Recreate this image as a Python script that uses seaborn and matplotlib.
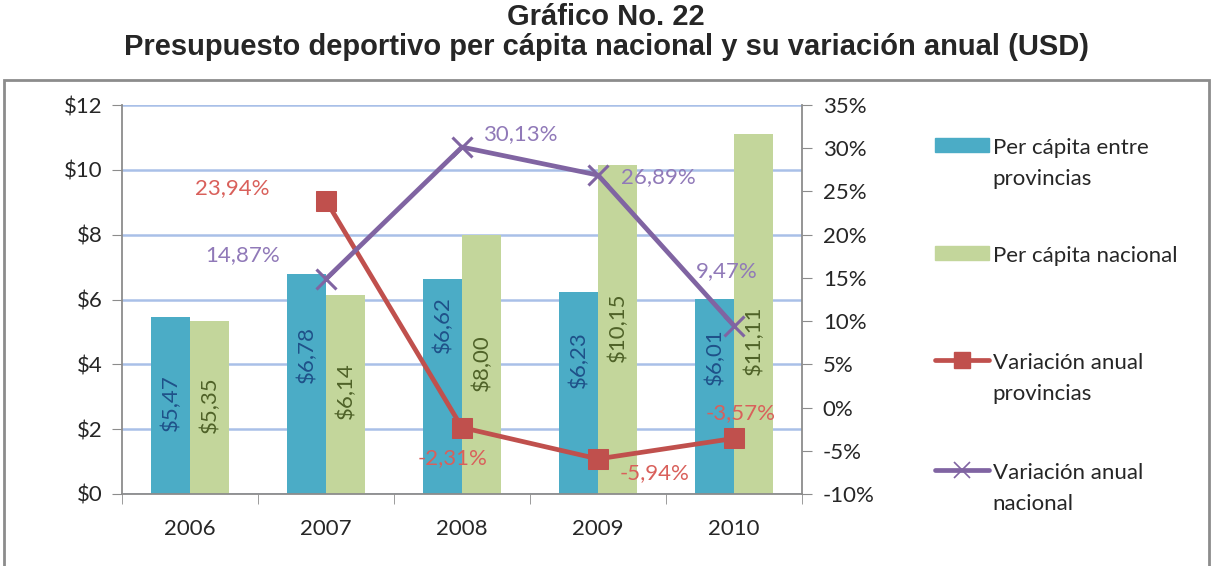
import numpy as np
import pandas as pd
import seaborn as sns
import matplotlib.pyplot as plt
from matplotlib.patches import Patch, Rectangle
from matplotlib.lines import Line2D
from matplotlib.ticker import FuncFormatter, MultipleLocator

# datos
years = ['2006', '2007', '2008', '2009', '2010']
pc_provincias = [5.47, 6.78, 6.62, 6.23, 6.01]
pc_nacional = [5.35, 6.14, 8.00, 10.15, 11.11]
var_provincias = [np.nan, 23.94, -2.31, -5.94, -3.57]
var_nacional = [np.nan, 14.87, 30.13, 26.89, 9.47]

serie_bar = ['Per cápita entre\nprovincias', 'Per cápita nacional']
serie_line = ['Variación anual\nprovincias', 'Variación anual\nnacional']

# altura (en $) donde Excel dejo las etiquetas de las barras
lbl_y_prov = [2.81, 4.29, 5.24, 4.13, 4.23]
lbl_y_nac = [2.75, 3.18, 4.04, 5.15, 4.75]

# desplazamiento del centro de las etiquetas de las lineas (px)
off_prov = [None, (-94, 13), (-9, -31), (57, -14), (7, 25)]
off_nac = [None, (-83, 24), (58, 13), (60, -2), (-7, 55)]

c_blue, c_green = '#4BACC6', '#C3D69B'
c_red, c_purple = '#C0504D', '#8064A2'
fs = 16

sns.set_style('white')
plt.rcParams['font.family'] = ['Lato', 'DejaVu Sans']

fig = plt.figure(figsize=(12.12, 5.66), dpi=100)
ax = fig.add_axes([122 / 1212, 1 - 494 / 566, 680 / 1212, 389 / 566])

df = pd.DataFrame({
    'year': years * 2,
    'valor': pc_provincias + pc_nacional,
    'serie': [serie_bar[0]] * 5 + [serie_bar[1]] * 5,
})
sns.barplot(data=df, x='year', y='valor', hue='serie', palette=[c_blue, c_green],
            width=0.57, gap=0, saturation=1, linewidth=0, ax=ax, legend=False, zorder=2)

ax.set_ylim(0, 12)
ax.set_xlim(-0.5, 4.5)
ax.yaxis.set_major_locator(MultipleLocator(2))
ax.yaxis.set_major_formatter(FuncFormatter(lambda v, p: f'${v:.0f}'))
ax.set_xlabel('')
ax.set_ylabel('')
ax.grid(axis='y', color='#A9C0E8', lw=1.8, zorder=0)
ax.set_axisbelow(True)
for s in ['top', 'right']:
    ax.spines[s].set_visible(False)
for s in ['left', 'bottom']:
    ax.spines[s].set_color('#8C8C8C')
    ax.spines[s].set_linewidth(1.3)
ax.tick_params(axis='y', which='both', direction='out', length=7, color='#8C8C8C',
               labelsize=fs, pad=7, left=True)
ax.tick_params(axis='x', which='major', length=0, labelsize=fs, pad=18)
ax.set_xticks(np.arange(-0.5, 5, 1), minor=True)
ax.tick_params(axis='x', which='minor', direction='out', length=7, color='#8C8C8C', bottom=True)

# etiquetas de las barras (verticales)
for i in range(5):
    ax.text(i - 0.1425, lbl_y_prov[i], f'${pc_provincias[i]:.2f}'.replace('.', ','),
            rotation=90, ha='center', va='center', color='#1F5189', fontsize=fs)
    ax.text(i + 0.1425, lbl_y_nac[i], f'${pc_nacional[i]:.2f}'.replace('.', ','),
            rotation=90, ha='center', va='center', color='#4F6228', fontsize=fs)

# eje secundario con las variaciones
ax2 = ax.twinx()
pos = np.arange(5)
sns.lineplot(x=pos, y=var_provincias, ax=ax2, color=c_red, lw=3.4, marker='s',
             markersize=14, markeredgecolor=c_red)
sns.lineplot(x=pos, y=var_nacional, ax=ax2, color=c_purple, lw=3.4, marker='x',
             markersize=14, markeredgewidth=2.2, markeredgecolor=c_purple)
ax2.set_ylim(-10, 35)
ax2.yaxis.set_major_locator(MultipleLocator(5))
ax2.yaxis.set_major_formatter(FuncFormatter(lambda v, p: f'{v:.0f}%'))
ax2.grid(False)
for s in ['top', 'left', 'bottom']:
    ax2.spines[s].set_visible(False)
ax2.spines['right'].set_color('#8C8C8C')
ax2.spines['right'].set_linewidth(1.3)
ax2.tick_params(axis='y', direction='out', length=7, color='#8C8C8C', labelsize=fs,
                pad=8, right=True)

for vals, offs, col in [(var_provincias, off_prov, '#D9605B'), (var_nacional, off_nac, '#9079B8')]:
    for i, v in enumerate(vals):
        if offs[i] is None:
            continue
        dx, dy = offs[i]
        ax2.annotate(f'{v:.2f}%'.replace('.', ','), (i, v), xytext=(dx * 0.72, dy * 0.72),
                     textcoords='offset points', ha='center', va='center', color=col,
                     fontsize=fs, zorder=5)

# leyenda: una entrada por bloque, la clave alineada con la primera linea
handles = [Patch(color=c_blue), Patch(color=c_green),
           Line2D([], [], color=c_red, lw=3.4, marker='s', markersize=11),
           Line2D([], [], color=c_purple, lw=3.4, marker='x', markersize=12, markeredgewidth=1.2)]
key_y = [148, 256, 363, 473]
for h, lab, ky in zip(handles, serie_bar + serie_line, key_y):
    leg = fig.legend([h], [lab], loc='upper left', bbox_to_anchor=(935 / 1212, 1 - (ky - 10) / 566),
                     frameon=False, fontsize=fs, handlelength=2.45, handleheight=0.6,
                     handletextpad=0.15, borderpad=0, borderaxespad=0)
    for t in leg.get_texts():
        t.set_linespacing(1.66)
    for col in leg._legend_handle_box.get_children():
        for item in col.get_children():
            item.align = 'top'

# titulo
fig.text(0.5, 1 - 17 / 566, 'Gráfico No. 22', ha='center', va='center', fontsize=21,
         fontweight='bold', family='Liberation Sans')
fig.text(0.5, 1 - 47 / 566, 'Presupuesto deportivo per cápita nacional y su variación anual (USD)',
         ha='center', va='center', fontsize=21, fontweight='bold', family='Liberation Sans')

# marco del area del grafico
fig.patches.append(Rectangle((4 / 1212, -0.05), 1205 / 1212, 1.05 - 80 / 566,
                             transform=fig.transFigure, fill=False, ec='#8C8C8C', lw=2))

fig.savefig('out.png', dpi=100)
